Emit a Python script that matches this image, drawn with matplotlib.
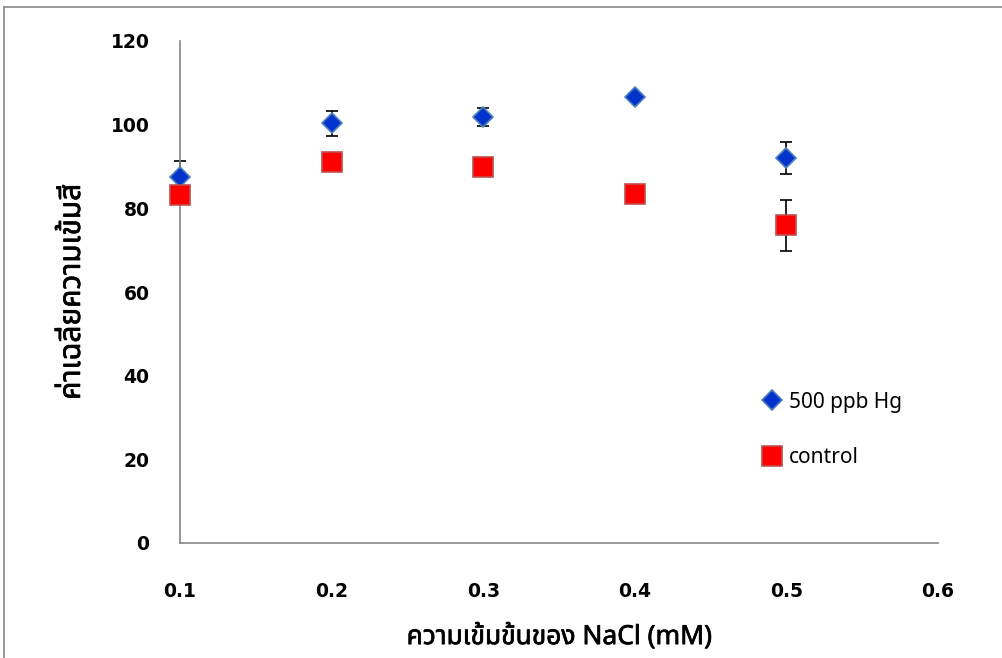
import matplotlib
matplotlib.use("Agg")
import matplotlib.pyplot as plt
import matplotlib.patheffects as pe
from matplotlib import font_manager
from matplotlib.ft2font import FT2Font
from matplotlib.lines import Line2D

# data
nacl = [0.1, 0.2, 0.3, 0.4, 0.5]
hg_mean = [87.6, 100.3, 101.8, 106.6, 92.0]
hg_err = [3.8, 2.9, 2.2, 1.0, 3.85]
ctrl_mean = [83.1, 91.1, 89.9, 83.4, 76.0]
ctrl_err = [1.5, 1.5, 1.5, 1.5, 6.1]

xticks = [0.1, 0.2, 0.3, 0.4, 0.5, 0.6]
yticks = [0, 20, 40, 60, 80, 100, 120]

xlabel = "ความเข้มข้นของ NaCl (mM)"
ylabel = "ค่าเฉลี่ยความเข้มสี"
labels = ["500 ppb Hg", "control"]


def find_thai_font():
    preferred = ["Noto Sans Thai", "Noto Sans Thai UI", "Loma", "Garuda", "Waree",
                 "Tlwg Typo", "Umpush", "Sawasdee", "Kinnari", "Norasi"]
    found = {}
    for f in font_manager.fontManager.ttflist:
        try:
            if ord("ค") in FT2Font(f.fname).get_charmap():
                found.setdefault(f.name, f.fname)
        except Exception:
            pass
    for name in preferred:
        if name in found:
            return name
    return next(iter(found), None)


thai = find_thai_font()
fams = ([thai] if thai else []) + ["DejaVu Sans"]
plt.rcParams["font.family"] = fams

fig = plt.figure(figsize=(10.03, 6.58), dpi=100)
ax = fig.add_axes([180 / 1003, 1 - 543 / 658, (938 - 180) / 1003, (543 - 41) / 658])

ax.errorbar(nacl, hg_mean, yerr=hg_err, fmt="none", ecolor="black",
            elinewidth=1.2, capsize=4, capthick=1.2, zorder=2, clip_on=False)
ax.errorbar(nacl, ctrl_mean, yerr=ctrl_err, fmt="none", ecolor="black",
            elinewidth=1.2, capsize=4, capthick=1.2, zorder=2, clip_on=False)
ax.plot(nacl, hg_mean, linestyle="none", marker="D", markersize=10.5, clip_on=False,
        markerfacecolor="#0033cc", markeredgecolor="#4f81bd", markeredgewidth=1.2, zorder=3)
ax.plot(nacl, ctrl_mean, linestyle="none", marker="s", markersize=14, clip_on=False,
        markerfacecolor="#ff0000", markeredgecolor="#c0504d", markeredgewidth=1.2, zorder=3)

ax.set_xlim(0.1, 0.6)
ax.set_ylim(0, 120)
ax.set_xticks(xticks)
ax.set_yticks(yticks)
ax.set_xticklabels([f"{v:g}" for v in xticks], fontsize=13.5, fontweight="bold",
                   family=["DejaVu Sans"])
ax.set_yticklabels([str(v) for v in yticks], fontsize=13.5, fontweight="bold",
                   family=["DejaVu Sans"])
ax.tick_params(axis="both", length=0)
ax.tick_params(axis="x", pad=28)
ax.tick_params(axis="y", pad=22)

for side in ["top", "right"]:
    ax.spines[side].set_visible(False)
for side in ["left", "bottom"]:
    ax.spines[side].set_color("#868686")
    ax.spines[side].set_linewidth(1.2)

bold = [pe.withStroke(linewidth=0.5, foreground="black")]
ax.set_xlabel(xlabel, fontsize=19, labelpad=16, path_effects=bold)
ax.set_ylabel(ylabel, fontsize=21.5, labelpad=17, path_effects=bold)

handles = [
    Line2D([], [], linestyle="none", marker="D", markersize=10.5,
           markerfacecolor="#0033cc", markeredgecolor="#4f81bd", markeredgewidth=1.2),
    Line2D([], [], linestyle="none", marker="s", markersize=14,
           markerfacecolor="#ff0000", markeredgecolor="#c0504d", markeredgewidth=1.2),
]
fig.legend(handles, labels, loc="upper left", bbox_to_anchor=(745 / 1003, 1 - 373 / 658),
           frameon=False, fontsize=15, handlelength=0.8, handletextpad=0.4,
           labelspacing=1.65)

# outer chart frame, partly cut off in the reference
fig.add_artist(Line2D([4 / 1003, 4 / 1003], [0, 1 - 7 / 658], color="#888888", lw=1.2))
fig.add_artist(Line2D([4 / 1003, 1], [1 - 7 / 658, 1 - 7 / 658], color="#888888", lw=1.2))

fig.savefig("out.png", dpi=100)
